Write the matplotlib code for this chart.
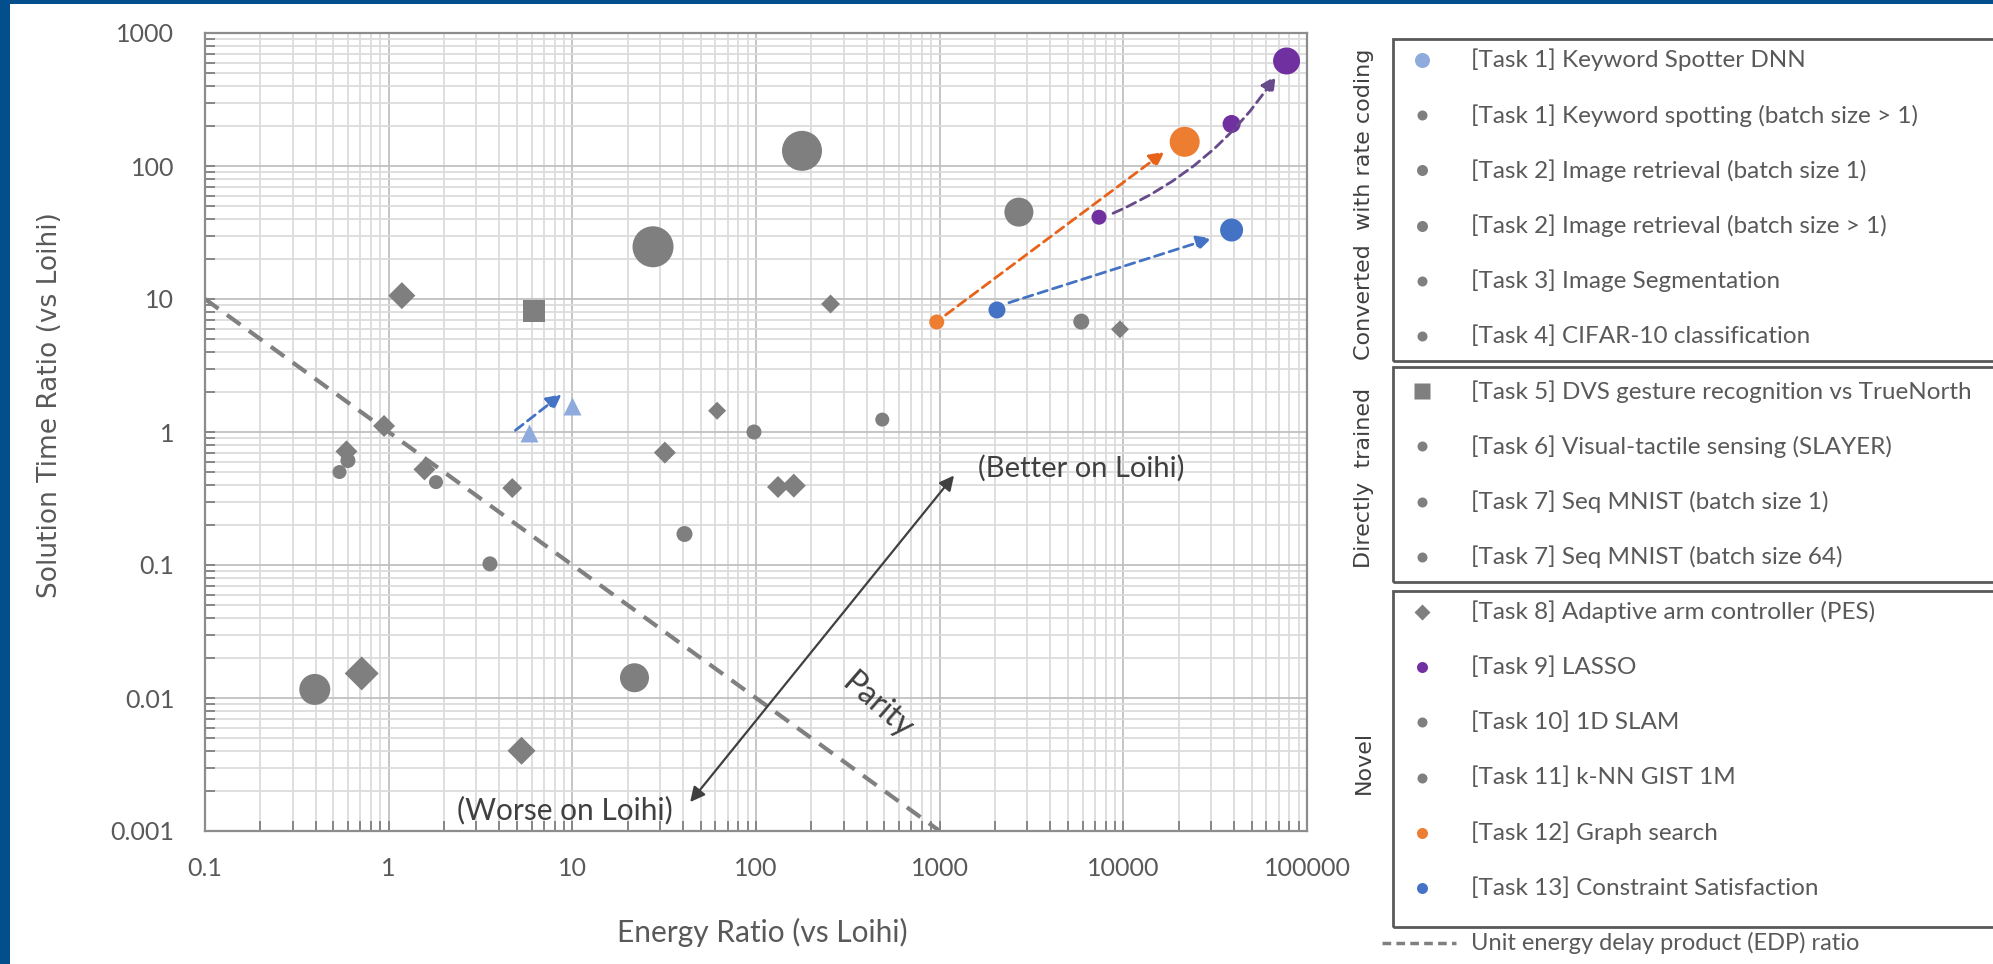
import matplotlib
matplotlib.use("Agg")
import matplotlib.pyplot as plt
from matplotlib.lines import Line2D
from matplotlib.patches import Rectangle
from matplotlib.ticker import LogLocator, NullFormatter

W, H, DPI = 1993, 964, 100

# ---- data (energy ratio, solution time ratio) ----
gray_circle_energy = [27.5, 178, 2700, 0.396, 21.8, 0.60, 0.54, 1.81, 3.56, 40.8, 97.5, 487, 5900]
gray_circle_time = [24.7, 130, 45.0, 0.0116, 0.0142, 0.61, 0.50, 0.42, 0.102, 0.171, 1.0, 1.24, 6.76]
gray_circle_diam = [41, 40, 29, 31, 29, 15, 14, 14, 15, 16, 15, 14, 16]

gray_diamond_energy = [1.18, 0.944, 0.589, 1.566, 4.71, 31.9, 61.4, 131.8, 160.6, 254.6, 9590, 0.713, 5.29]
gray_diamond_time = [10.6, 1.11, 0.715, 0.523, 0.379, 0.70, 1.445, 0.386, 0.395, 9.17, 5.92, 0.0153, 0.00401]
gray_diamond_width = [27, 22, 22, 22, 20, 22, 18, 22, 24, 19, 18, 34, 28]

dvs_energy = [6.15]
dvs_time = [8.17]

kws_energy = [5.83, 9.9]
kws_time = [0.98, 1.57]

graph_energy = [964, 21580]
graph_time = [6.72, 152]
graph_diam = [15, 30]

csp_energy = [2051, 38850]
csp_time = [8.27, 33.0]
csp_diam = [17, 23]

lasso_energy = [7370, 38850, 77400]
lasso_time = [41.2, 207, 616]
lasso_diam = [15, 18, 27]

# unit EDP ratio (time = 1 / energy)
edp_energy = [0.1, 1000]
edp_time = [10, 0.001]

# improvement arrows: (start, end)
kws_arrow = ((4.9, 1.03), (8.74, 1.92))
graph_arrow = ((1077, 7.58), (16750, 128))
csp_arrow = ((2382, 9.38), (30200, 28.6))
lasso_arrow = ((8790, 44.1), (67450, 475))
parity_arrow = ((43.8, 0.00165), (1197, 0.471))

x_ticks = [0.1, 1, 10, 100, 1000, 10000, 100000]
x_tick_labels = ["0.1", "1", "10", "100", "1000", "10000", "100000"]
y_ticks = [0.001, 0.01, 0.1, 1, 10, 100, 1000]
y_tick_labels = ["0.001", "0.01", "0.1", "1", "10", "100", "1000"]

legend_labels = [
    "[Task 1] Keyword Spotter DNN",
    "[Task 1] Keyword spotting (batch size > 1)",
    "[Task 2] Image retrieval (batch size 1)",
    "[Task 2] Image retrieval (batch size > 1)",
    "[Task 3] Image Segmentation",
    "[Task 4] CIFAR-10 classification",
    "[Task 5] DVS gesture recognition vs TrueNorth",
    "[Task 6] Visual-tactile sensing (SLAYER)",
    "[Task 7] Seq MNIST (batch size 1)",
    "[Task 7] Seq MNIST (batch size 64)",
    "[Task 8] Adaptive arm controller (PES)",
    "[Task 9] LASSO",
    "[Task 10] 1D SLAM",
    "[Task 11] k-NN GIST 1M",
    "[Task 12] Graph search",
    "[Task 13] Constraint Satisfaction",
]
group_names = ["Converted  with rate coding", "Directly  trained", "Novel"]

# ---- styles ----
GRAY = "#7f7f7f"
LIGHT_BLUE = "#8faadc"
BLUE = "#4472c4"
ORANGE = "#ed7d31"
PURPLE = "#7030a0"
TXT = "#595959"
FONT = "Lato"

legend_style = [
    ("o", LIGHT_BLUE, 15), ("o", GRAY, 10), ("o", GRAY, 11), ("o", GRAY, 11),
    ("o", GRAY, 10), ("o", GRAY, 10), ("s", GRAY, 16), ("o", GRAY, 10),
    ("o", GRAY, 10), ("o", GRAY, 10), ("D", GRAY, 15), ("o", PURPLE, 11),
    ("o", GRAY, 10), ("o", GRAY, 10), ("o", ORANGE, 11), ("o", BLUE, 11),
]


def area(d, marker="o"):
    """pixel width -> scatter size in pt^2"""
    pt = d * 72 / DPI
    if marker == "D":
        pt = pt / 1.414
    return pt ** 2


def fx(x):
    return x / W


def fy(y):
    return 1 - y / H


fig = plt.figure(figsize=(W / DPI, H / DPI), dpi=DPI)
fig.patch.set_facecolor("white")

ax = fig.add_axes([fx(205), fy(831), (1307 - 205) / W, (831 - 33) / H])
ax.set_xscale("log")
ax.set_yscale("log")
ax.set_xlim(0.1, 1e5)
ax.set_ylim(1e-3, 1e3)

ax.xaxis.set_minor_locator(LogLocator(base=10, subs=range(2, 10), numticks=20))
ax.yaxis.set_minor_locator(LogLocator(base=10, subs=range(2, 10), numticks=20))
ax.xaxis.set_minor_formatter(NullFormatter())
ax.yaxis.set_minor_formatter(NullFormatter())
ax.set_xticks(x_ticks, labels=x_tick_labels)
ax.set_yticks(y_ticks, labels=y_tick_labels)
ax.grid(which="major", color="#c0c0c0", lw=1.3)
ax.grid(which="minor", color="#dcdcdc", lw=1.3)
ax.set_axisbelow(True)
ax.tick_params(which="both", direction="in", color="#808080", width=1.3, length=7,
               labelsize=18, labelcolor=TXT)
ax.tick_params(axis="y", pad=22)
ax.tick_params(axis="x", pad=19)
for lab in ax.get_xticklabels() + ax.get_yticklabels():
    lab.set_fontfamily(FONT)
for sp in ax.spines.values():
    sp.set_color("#8c8c8c")
    sp.set_linewidth(1.6)

# parity line
ax.plot(edp_energy, edp_time, ls=(0, (4, 2.5)), color="#808080", lw=3, zorder=2)

# markers
ax.scatter(gray_circle_energy, gray_circle_time, s=[area(d) for d in gray_circle_diam],
           color=GRAY, linewidths=0, zorder=3)
ax.scatter(gray_diamond_energy, gray_diamond_time,
           s=[area(d, "D") for d in gray_diamond_width], marker="D",
           color=GRAY, linewidths=0, zorder=3)
ax.scatter(dvs_energy, dvs_time, s=area(22), marker="s", color=GRAY, linewidths=0, zorder=3)
ax.scatter(kws_energy, kws_time, s=area(18), marker="^", color=LIGHT_BLUE, linewidths=0, zorder=3)
ax.scatter(graph_energy, graph_time, s=[area(d) for d in graph_diam], color=ORANGE,
           linewidths=0, zorder=4)
ax.scatter(csp_energy, csp_time, s=[area(d) for d in csp_diam], color=BLUE,
           linewidths=0, zorder=4)
ax.scatter(lasso_energy, lasso_time, s=[area(d) for d in lasso_diam], color=PURPLE,
           linewidths=0, zorder=4)


def dashed_arrow(pair, color, rad=0.0):
    (x0, y0), (x1, y1) = pair
    ax.annotate("", xy=(x1, y1), xytext=(x0, y0),
                arrowprops=dict(arrowstyle="-|>", color=color, lw=2, ls=(0, (3.5, 2)),
                                mutation_scale=22, shrinkA=0, shrinkB=0,
                                connectionstyle=f"arc3,rad={rad}"),
                zorder=5)


dashed_arrow(kws_arrow, BLUE)
dashed_arrow(graph_arrow, "#e8631a")
dashed_arrow(csp_arrow, BLUE)
dashed_arrow(lasso_arrow, "#674a8a", rad=0.15)

(ax0, ay0), (ax1, ay1) = parity_arrow
ax.annotate("", xy=(ax1, ay1), xytext=(ax0, ay0),
            arrowprops=dict(arrowstyle="<|-|>", color="#404040", lw=1.6,
                            mutation_scale=22, shrinkA=0, shrinkB=0), zorder=5)

ax.text(1618, 0.536, "(Better on Loihi)", fontsize=21, family=FONT, color="#404040",
        ha="left", va="center")
ax.text(2.36, 0.00144, "(Worse on Loihi)", fontsize=21.5, family=FONT, color="#404040",
        ha="left", va="center")
ax.text(458, 0.00873, "Parity", fontsize=23, family=FONT, color="#404040",
        ha="center", va="center", rotation=-41)

# axis titles
fig.text(fx(50), fy(405), "Solution Time Ratio (vs Loihi)", rotation=90, fontsize=19,
         family="DejaVu Sans", color=TXT, ha="center", va="center")
fig.text(fx(762), fy(932), "Energy Ratio (vs Loihi)", fontsize=21.5, family=FONT,
         color=TXT, ha="center", va="center")

# ---- legend panel ----
row_y = [60 + 55.2 * i for i in range(len(legend_labels) + 1)]
box_tops = [39, 367, 591]
box_bottoms = [361, 582, 927]
group_centers = [204, 478, 762]
for top, bot, name, cy in zip(box_tops, box_bottoms, group_names, group_centers):
    fig.add_artist(Rectangle((fx(1393), fy(bot)), (2100 - 1393) / W, (bot - top) / H,
                             transform=fig.transFigure, fill=False, ec="#595959", lw=2))
    fig.text(fx(1364), fy(cy), name, rotation=90, fontsize=16, family="DejaVu Sans",
             color="#404040", ha="center", va="center")

for yy, label, (mk, col, size) in zip(row_y, legend_labels, legend_style):
    ms = size * 72 / DPI
    if mk == "D":
        ms /= 1.414
    fig.add_artist(Line2D([fx(1422)], [fy(yy)], transform=fig.transFigure, marker=mk,
                          ms=ms, color=col, mec="none", ls="none"))
    fig.text(fx(1471), fy(yy), label, fontsize=17.5, family=FONT, color=TXT,
             ha="left", va="center")

fig.add_artist(Line2D([fx(1382), fx(1456)], [fy(row_y[-1])] * 2, transform=fig.transFigure,
                      color="#808080", lw=2.5, ls=(0, (2.5, 1.5))))
fig.text(fx(1471), fy(row_y[-1]), "Unit energy delay product (EDP) ratio", fontsize=17,
         family=FONT, color=TXT, ha="left", va="center")

# blue frame strips
fig.add_artist(Rectangle((0, 0), fx(10), 1, transform=fig.transFigure, color="#034e8c", lw=0))
fig.add_artist(Rectangle((0, fy(4)), 1, 4 / H, transform=fig.transFigure, color="#034e8c", lw=0))

fig.savefig("out.png", dpi=DPI)
